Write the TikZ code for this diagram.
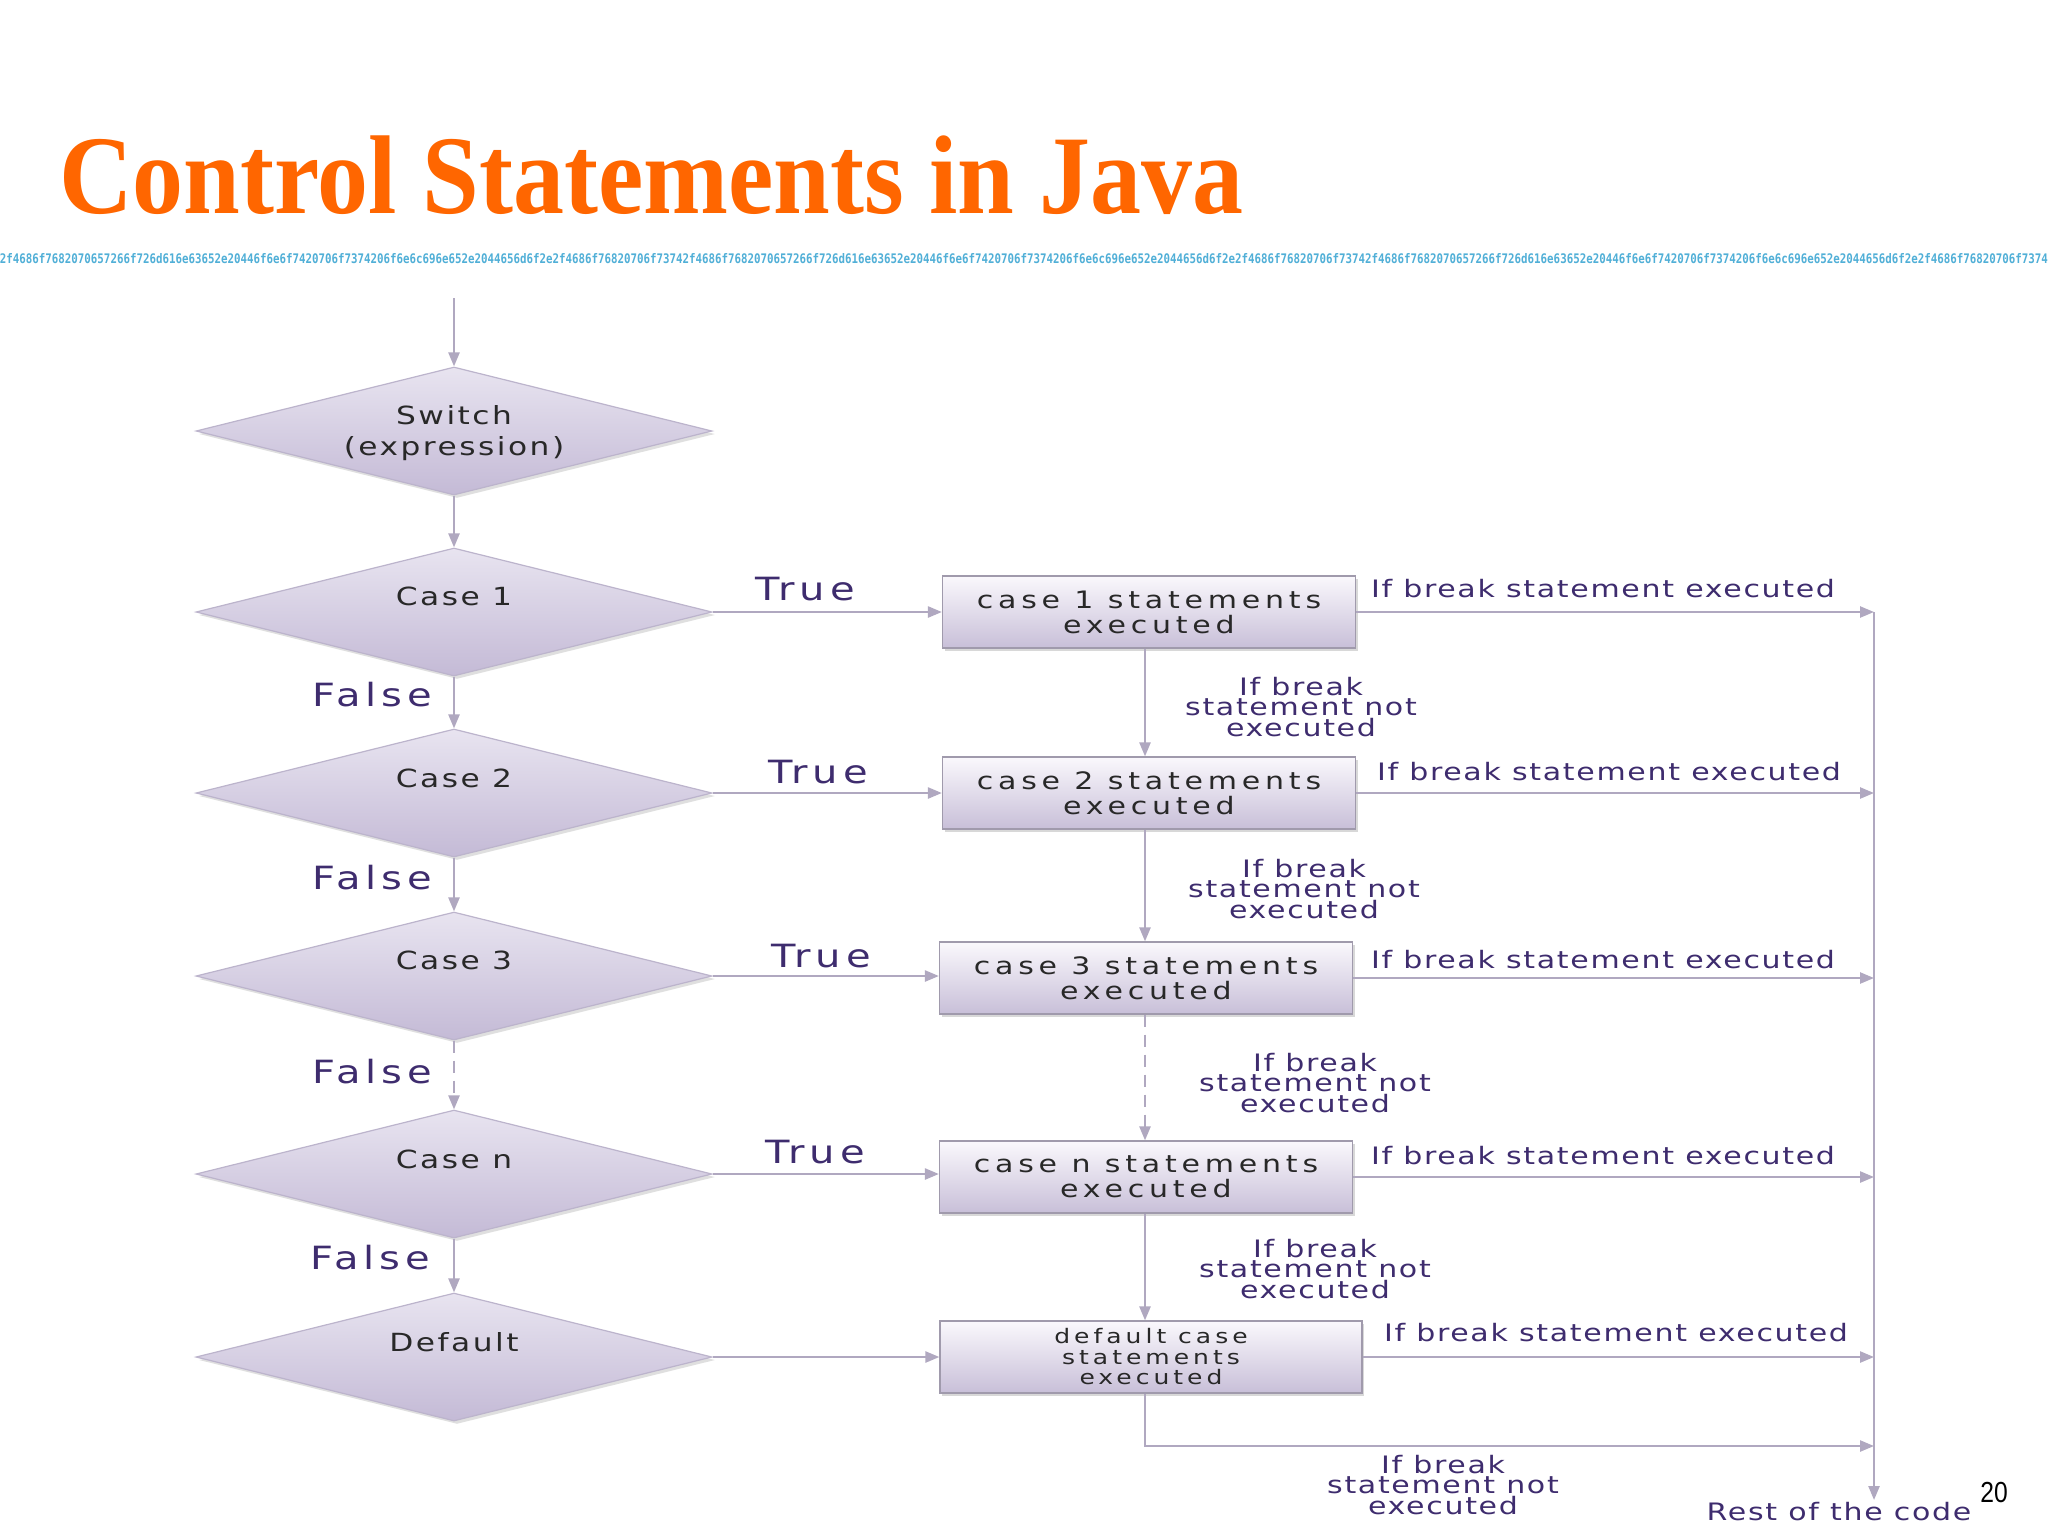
\documentclass[tikz,border=0pt]{standalone}
\usepackage{fontspec}
\usetikzlibrary{shapes.geometric,arrows.meta,shadows}
\setmainfont{Liberation Serif}
\newfontfamily\boxfont[FakeStretch=1.25,LetterSpace=20]{DejaVu Sans}
\newfontfamily\dfont[FakeStretch=1.25,LetterSpace=10]{DejaVu Sans}
\newfontfamily\lfont[FakeStretch=1.25,LetterSpace=7]{DejaVu Sans}
\newfontfamily\tffont[FakeStretch=1.25,LetterSpace=15]{DejaVu Sans}
\newfontfamily\numfont{Liberation Sans}
\newfontfamily\hexfont{DejaVu Sans Mono}
\definecolor{titleorange}{RGB}{255,102,0}
\definecolor{hexblue}{RGB}{80,175,215}
\definecolor{linecol}{RGB}{176,168,192}
\definecolor{diatop}{RGB}{232,228,240}
\definecolor{diabot}{RGB}{196,186,214}
\definecolor{diaborder}{RGB}{188,180,204}
\definecolor{boxtop}{RGB}{250,248,252}
\definecolor{boxbot}{RGB}{200,191,216}
\definecolor{boxborder}{RGB}{160,154,172}
\definecolor{purpletext}{RGB}{62,44,110}
\definecolor{darktext}{RGB}{40,40,40}
\def\hexchunk{2f4686f7682070657266f726d616e63652e20446f6e6f7420706f7374206f6e6c696e652e2044656d6f2e2f4686f76820706f7374}
\tikzset{
  dia/.style={diamond, minimum width=258pt, minimum height=64pt, inner sep=0pt,
    draw=diaborder, line width=0.6pt, top color=diatop, bottom color=diabot,
    drop shadow={opacity=0.25, shadow xshift=1.5pt, shadow yshift=-1.5pt}},
  dlabel/.style={font=\dfont\fontsize{12.5}{15.5}\selectfont, text=darktext, align=center, inner sep=0pt},
  stbox/.style={rectangle, minimum width=206.5pt, minimum height=36pt, inner sep=0pt,
    draw=boxborder, line width=0.6pt, top color=boxtop, bottom color=boxbot,
    align=center, font=\boxfont\fontsize{12}{12.5}\selectfont, text=darktext,
    drop shadow={opacity=0.3, shadow xshift=1.2pt, shadow yshift=-1.5pt}},
  conn/.style={draw=linecol, line width=1.2pt, -{Triangle[length=7pt,width=5.5pt]}},
  dconn/.style={conn, dash pattern=on 6pt off 4pt},
  lbl/.style={font=\lfont\fontsize{12}{10.3}\selectfont, text=purpletext, align=center, inner sep=0pt},
  tflbl/.style={font=\tffont\fontsize{16}{18}\selectfont, text=purpletext, inner sep=0pt}
}
\begin{document}
\begin{tikzpicture}[x=0.5pt,y=-0.5pt]
\fill[white] (0,0) rectangle (2048,1536);
\useasboundingbox (0,0) rectangle (2048,1536);
% title
\node[anchor=base west, inner sep=0pt, text=titleorange, font=\bfseries\fontsize{56}{60}\selectfont] (title) at (59,213) {\scalebox{0.91}[1]{Control Statements in Java}};
% hex strip
\node[inner sep=0pt] (hexstrip) at (1024,259) {\resizebox{1024pt}{5pt}{\color{hexblue}\hexfont\bfseries\hexchunk\hexchunk\hexchunk}};
% diamonds
\node[dia] (sw) at (454,431) {};
\node[dia] (c1) at (454,612) {};
\node[dia] (c2) at (454,793) {};
\node[dia] (c3) at (454,976) {};
\node[dia] (cn) at (454,1174) {};
\node[dia] (cd) at (454,1357) {};
\node[dlabel] (swl) at (454,433) {Switch\\(expression)};
\node[dlabel] (c1l) at (454,596) {Case 1};
\node[dlabel] (c2l) at (454,778) {Case 2};
\node[dlabel] (c3l) at (454,960) {Case 3};
\node[dlabel] (cnl) at (454,1159) {Case n};
\node[dlabel] (cdl) at (454,1342) {Default};
% boxes
\node[stbox] (b1) at (1149,612) {case 1 statements\\executed};
\node[stbox] (b2) at (1149,793) {case 2 statements\\executed};
\node[stbox] (b3) at (1146,978) {case 3 statements\\executed};
\node[stbox] (bn) at (1146,1177) {case n statements\\executed};
\node[stbox, minimum width=211pt, font=\boxfont\fontsize{10}{10.25}\selectfont] (bd) at (1151,1357) {default case\\statements\\executed};
% start and end coordinates
\coordinate (start) at (454,298);
\coordinate (vx) at (1145,0);
\coordinate (rtop) at (1874,612);
\coordinate (rend) at (1874,1500);
\coordinate (bbot) at (1874,1446);
% spine
\draw[conn] (start) -- (sw.north);
\draw[conn] (sw.south) -- (c1.north);
\draw[conn] (c1.south) -- (c2.north);
\draw[conn] (c2.south) -- (c3.north);
\draw[dconn] (c3.south) -- (cn.north);
\draw[conn] (cn.south) -- (cd.north);
% true arrows
\draw[conn] (c1.east) -- (c1.east -| b1.west);
\draw[conn] (c2.east) -- (c2.east -| b2.west);
\draw[conn] (c3.east) -- (c3.east -| b3.west);
\draw[conn] (cn.east) -- (cn.east -| bn.west);
\draw[conn] (cd.east) -- (cd.east -| bd.west);
% box chain
\draw[conn] (b1.south -| vx) -- (b2.north -| vx);
\draw[conn] (b2.south -| vx) -- (b3.north -| vx);
\draw[dconn] (b3.south -| vx) -- (bn.north -| vx);
\draw[conn] (bn.south -| vx) -- (bd.north -| vx);
% break arrows
\draw[conn] (b1.east) -- (b1.east -| rtop);
\draw[conn] (b2.east) -- (b2.east -| rtop);
\draw[conn] (b3.east) -- (b3.east -| rtop);
\draw[conn] (bn.east) -- (bn.east -| rtop);
\draw[conn] (bd.east) -- (bd.east -| rtop);
\draw[conn] (bd.south -| vx) |- (bbot);
\draw[conn] (rtop) -- (rend);
% labels
\node[tflbl] (t1) at (805,589) {True};
\node[tflbl] (t2) at (818,772) {True};
\node[tflbl] (t3) at (821,956) {True};
\node[tflbl] (tn) at (815,1152) {True};
\node[tflbl] (f1) at (372,695) {False};
\node[tflbl] (f2) at (372,878) {False};
\node[tflbl] (f3) at (372,1072) {False};
\node[tflbl] (fn) at (370,1258) {False};
\node[lbl] (e1) at (1603,589) {If break statement executed};
\node[lbl] (e2) at (1609,772) {If break statement executed};
\node[lbl] (e3) at (1603,960) {If break statement executed};
\node[lbl] (en) at (1603,1156) {If break statement executed};
\node[lbl] (ed) at (1616,1333) {If break statement executed};
\node[lbl] (n1) at (1301,707) {If break\\statement not\\executed};
\node[lbl] (n2) at (1304,889) {If break\\statement not\\executed};
\node[lbl] (n3) at (1315,1083) {If break\\statement not\\executed};
\node[lbl] (nn) at (1315,1269) {If break\\statement not\\executed};
\node[lbl] (nd) at (1443,1485) {If break\\statement not\\executed};
\node[lbl] (rest) at (1839,1512) {Rest of the code};
\node[inner sep=0pt, font=\numfont\fontsize{14.5}{16}\selectfont] (pagenum) at (1994,1492) {\scalebox{0.85}[1]{20}};
\end{tikzpicture}
\end{document}
